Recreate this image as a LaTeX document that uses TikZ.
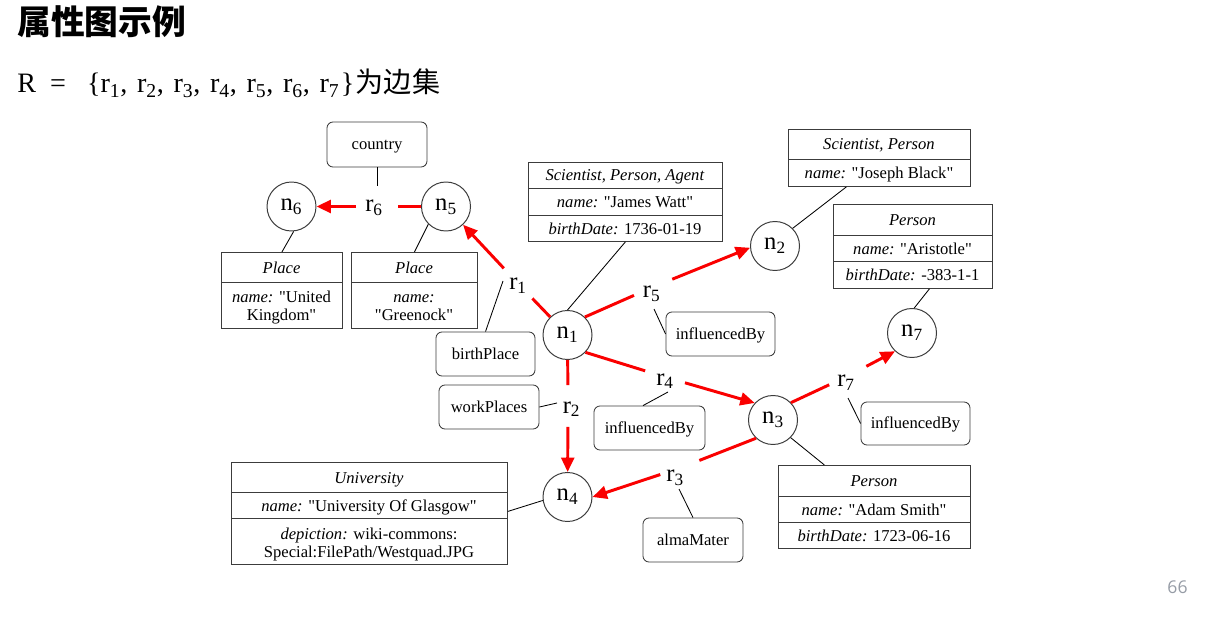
\documentclass[tikz,border=0pt]{standalone}
\usepackage{fontspec}
\setmainfont{Liberation Serif}[Ligatures=TeXOff]
\newfontfamily\cjk{Noto Sans CJK SC}
\newfontfamily\pgnum{Open Sans}
\usetikzlibrary{arrows.meta,calc}
\newlength{\px}\setlength{\px}{0.025cm}
\definecolor{boxline}{RGB}{60,60,60}
\definecolor{edgered}{RGB}{250,0,0}
\definecolor{pagegray}{RGB}{150,156,166}
% relation label: number, doubled horizontal offset, lowering of the baseline
\newcommand{\rlab}[3]{\raisebox{-#3}[0pt][0pt]{\makebox[0pt]{\hspace*{#2}r\textsubscript{#1}}}}
\newcommand{\nlab}[1]{n\textsubscript{#1}}
\begin{document}
\begin{tikzpicture}[x=0.025cm,y=-0.025cm,
  ent/.style={circle, draw=boxline, line width=0.7pt, minimum size=49\px, inner sep=0pt,
    font=\fontsize{17.5}{20}\selectfont},
  gap/.style={circle, minimum size=41\px, inner sep=0pt, font=\fontsize{17.5}{20}\selectfont},
  lbl/.style={draw=boxline, rounded corners=6\px, line width=0.6pt, inner sep=0pt,
    text height=9pt, text depth=1.2pt, font=\fontsize{11.8}{14}\selectfont},
  tbl/.style={draw=boxline, line width=0.6pt, inner sep=0pt, anchor=north west},
  div/.style={draw=boxline, line width=0.6pt},
  cell/.style={anchor=base, inner sep=0pt, font=\fontsize{11.8}{14}\selectfont},
  rel/.style={draw=edgered, line width=2.1pt},
  relarrow/.style={rel, -{Triangle[length=0.36cm,width=0.32cm]}},
  att/.style={draw=black, line width=0.6pt}]

\fill[white] (0,0) rectangle (1209,623);
\useasboundingbox (0,0) rectangle (1209,623);

% heading
\node[anchor=base west, inner sep=0pt] (title) at (17,34.6)
  {\cjk\bfseries\fontsize{24}{28}\selectfont 属性图示例};
\node[anchor=base west, inner sep=0pt] (edgeset) at (17,93)
  {\fontsize{20}{24}\selectfont R\hspace{10pt}=\hspace{15pt}\{r\textsubscript{1},\hspace{1.8pt} r\textsubscript{2},\hspace{1.8pt} r\textsubscript{3},\hspace{1.8pt} r\textsubscript{4},\hspace{1.8pt} r\textsubscript{5},\hspace{1.8pt} r\textsubscript{6},\hspace{1.8pt} r\textsubscript{7}\hspace{1pt}\}\hspace{1pt}{\cjk 为边集}};
\node[anchor=base, inner sep=0pt, text=pagegray] (page) at (1177.5,593)
  {\pgnum\fontsize{12.5}{15}\selectfont 66};

% entity nodes
\node[ent] (n1) at (567.5,335) {\nlab{1}};
\node[ent] (n2) at (775,246) {\nlab{2}};
\node[ent] (n3) at (773,420) {\nlab{3}};
\node[ent] (n4) at (567.5,497) {\nlab{4}};
\node[ent] (n5) at (446,206.5) {\nlab{5}};
\node[ent] (n6) at (291.5,206.5) {\nlab{6}};
\node[ent] (n7) at (912,333) {\nlab{7}};

% relation labels (the red edges break around them)
\node[gap] (r1) at (518,283.5) {\rlab{1}{0pt}{4.6pt}};
\node[gap] (r2) at (568,406) {\rlab{2}{5pt}{5pt}};
\node[gap] (r3) at (680,468) {\rlab{3}{-7pt}{9.7pt}};
\node[gap] (r4) at (665,377) {\rlab{4}{0pt}{5.7pt}};
\node[gap] (r5) at (653,287) {\rlab{5}{-2pt}{7.8pt}};
\node[gap] (r6) at (377,206.5) {\rlab{6}{-4.2pt}{3.9pt}};
\node[gap] (r7) at (848,376) {\rlab{7}{-2.8pt}{7.6pt}};

% relation types
\node[lbl, minimum width=100\px, minimum height=45\px] (country) at (377,144.5) {country};
\node[lbl, minimum width=99\px, minimum height=44\px] (bp) at (485.5,354) {birthPlace};
\node[lbl, minimum width=100\px, minimum height=44\px] (wp) at (489,407) {workPlaces};
\node[lbl, minimum width=111\px, minimum height=44\px] (ib4) at (649.5,428) {influencedBy};
\node[lbl, minimum width=109\px, minimum height=44\px] (ib5) at (720.5,334) {influencedBy};
\node[lbl, minimum width=109\px, minimum height=43\px] (ib7) at (915.5,423.5) {influencedBy};
\node[lbl, minimum width=100\px, minimum height=44\px] (am) at (693,540) {almaMater};

% property tables
\node[tbl, minimum width=194\px, minimum height=79\px] (jw) at (528,162) {};
\draw[div] (528,188) -- (722,188) (528,215) -- (722,215);
\node[cell] (jw1) at (625,181) {\textit{Scientist, Person, Agent}};
\node[cell] (jw2) at (625,207.5) {\textit{name:} "James Watt"};
\node[cell] (jw3) at (625,234) {\textit{birthDate:} 1736-01-19};

\node[tbl, minimum width=182\px, minimum height=57\px] (jb) at (788,129) {};
\draw[div] (788,159) -- (970,159);
\node[cell] (jb1) at (879,150) {\textit{Scientist, Person}};
\node[cell] (jb2) at (879,178.5) {\textit{name:} "Joseph Black"};

\node[tbl, minimum width=159\px, minimum height=84\px] (ar) at (833,204) {};
\draw[div] (833,235) -- (992,235) (833,261) -- (992,261);
\node[cell] (ar1) at (912.5,225.5) {\textit{Person}};
\node[cell] (ar2) at (912.5,254) {\textit{name:} "Aristotle"};
\node[cell] (ar3) at (912.5,280.5) {\textit{birthDate:} -383-1-1};

\node[tbl, minimum width=121\px, minimum height=76\px] (pl6) at (221,252) {};
\draw[div] (221,282) -- (342,282);
\node[cell] (pl6a) at (281.5,273) {\textit{Place}};
\node[cell] (pl6b) at (281.5,302) {\textit{name:} "United};
\node[cell] (pl6c) at (281.5,320.5) {Kingdom"};

\node[tbl, minimum width=126\px, minimum height=76\px] (pl5) at (351,252) {};
\draw[div] (351,282) -- (477,282);
\node[cell] (pl5a) at (414,273) {\textit{Place}};
\node[cell] (pl5b) at (414,302) {\textit{name:}};
\node[cell] (pl5c) at (414,320.5) {"Greenock"};

\node[tbl, minimum width=276\px, minimum height=102\px] (univ) at (231,462) {};
\draw[div] (231,492) -- (507,492) (231,518) -- (507,518);
\node[cell] (univ1) at (369,483) {\textit{University}};
\node[cell] (univ2) at (369,511) {\textit{name:} "University Of Glasgow"};
\node[cell] (univ3) at (369,539) {\textit{depiction:} wiki-commons:};
\node[cell] (univ4) at (369,557) {Special:FilePath/Westquad.JPG};

\node[tbl, minimum width=192\px, minimum height=83\px] (as) at (778,465) {};
\draw[div] (778,496) -- (970,496) (778,522) -- (970,522);
\node[cell] (as1) at (874,486.5) {\textit{Person}};
\node[cell] (as2) at (874,515) {\textit{name:} "Adam Smith"};
\node[cell] (as3) at (874,541) {\textit{birthDate:} 1723-06-16};

% red relationship edges
\draw[rel] (n1) -- (r1);       \draw[relarrow] (r1) -- (n5);
\draw[rel] (n1) -- (r2);       \draw[relarrow] (r2) -- (n4);
\draw[rel] (n3.227) -- (r3);   \draw[relarrow] (r3) -- (n4.east);
\draw[rel] (n1.-44) -- (r4);   \draw[relarrow] (r4) -- (n3.137);
\draw[rel] (n1.46) -- (r5);    \draw[relarrow] (r5) -- (n2.184);
\draw[rel] (n5) -- (r6);       \draw[relarrow] (r6) -- (n6);
\draw[rel] (n3.44) -- (r7);    \draw[relarrow] (r7) -- (n7.227);

% relation types attached to the relations
\draw[att] (country) -- (r6);
\draw[att] (bp.north) -- ([shift={(-15,-2.5)}]r1.center);
\draw[att] (wp.east) -- ([shift={(-11,-3)}]r2.center);
\draw[att] ([xshift=-6.5\px]ib4.north) -- ([shift={(3,15)}]r4.center);
\draw[att] (ib5.west) -- ([shift={(1,22)}]r5.center);
\draw[att] (ib7.west) -- ([shift={(0,22)}]r7.center);
\draw[att] (am.north) -- ([shift={(-1,21)}]r3.center);

% property tables attached to the entities
\draw[att] (jw.south) -- (n1.north);
\draw[att] ([xshift=-33\px]jb.south) -- (n2.45);
\draw[att] ([xshift=16.5\px]ar.south) -- (n7.85);
\draw[att] (pl6.north) -- (n6.-85);
\draw[att] (pl5.north) -- (n5.225);
\draw[att] ([yshift=2\px]univ.east) -- (n4.188);
\draw[att] ([xshift=-50\px]as.north) -- (n3.-45);
\end{tikzpicture}
\end{document}
